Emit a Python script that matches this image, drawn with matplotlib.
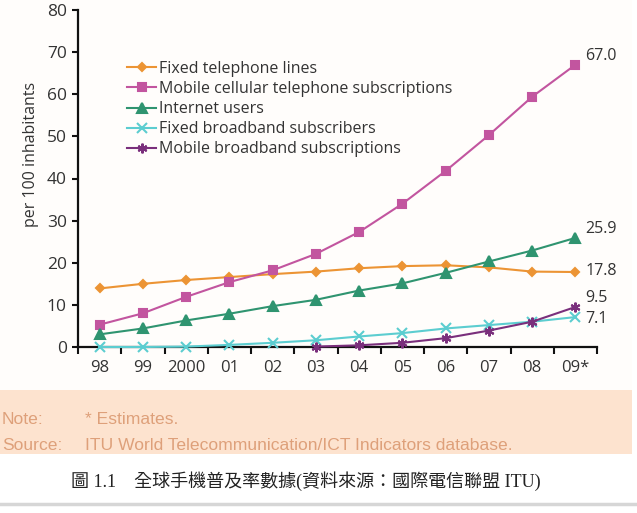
import matplotlib
matplotlib.use("Agg")
import matplotlib.pyplot as plt
from matplotlib.lines import Line2D
import numpy as np

years = ["98", "99", "2000", "01", "02", "03", "04", "05", "06", "07", "08", "09*"]
fixed_tel = [13.9, 15.0, 15.9, 16.6, 17.3, 17.9, 18.7, 19.2, 19.4, 18.9, 17.9, 17.8]
mobile_cell = [5.3, 8.0, 11.9, 15.4, 18.2, 22.1, 27.3, 34.0, 41.8, 50.3, 59.4, 67.0]
internet = [3.0, 4.4, 6.3, 7.9, 9.7, 11.2, 13.4, 15.1, 17.6, 20.3, 22.9, 25.9]
fixed_bb = [0.0, 0.0, 0.1, 0.5, 1.0, 1.6, 2.5, 3.3, 4.4, 5.2, 6.0, 7.1]
mobile_bb = [None, None, None, None, None, 0.1, 0.4, 1.0, 2.1, 3.9, 6.0, 9.5]
series_names = ["Fixed telephone lines", "Mobile cellular telephone subscriptions",
                "Internet users", "Fixed broadband subscribers",
                "Mobile broadband subscriptions"]
end_labels = ["17.8", "67.0", "25.9", "7.1", "9.5"]

plt.rcParams['font.family'] = ['Open Sans', 'DejaVu Sans']

fig = plt.figure(figsize=(6.37, 5.13), dpi=100)
fig.patch.set_facecolor("white")

W, H = 637, 513
# chart panel background
fig.patches.append(plt.Rectangle((0, 1 - 390 / H), 632 / W, 390 / H, transform=fig.transFigure,
                                 facecolor="#fffdfb", edgecolor="none", zorder=-5))
# peach note band
fig.patches.append(plt.Rectangle((0, 1 - 454 / H), 632 / W, 64 / H, transform=fig.transFigure,
                                 facecolor="#fde3cf", edgecolor="none", zorder=-5))
# grey line bottom
fig.add_artist(Line2D([0, 1], [1 - 503.5 / H, 1 - 503.5 / H], transform=fig.transFigure,
                      color="#d6d6d6", lw=2.5, zorder=-5))

ax = fig.add_axes([78 / W, 1 - 347 / H, (597 - 78) / W, (347 - 10) / H])
ax.set_facecolor("none")
ax.set_zorder(2)

x = np.arange(len(years))
colors = ["#ec9434", "#c2559f", "#2f9470", "#5ccdd0", "#7a2f7c"]
markers = ["D", "s", "^", "x", (6, 2, 0)]
msizes = [4.5, 6, 6.5, 6.5, 7]
data = [fixed_tel, mobile_cell, internet, fixed_bb, mobile_bb]

handles = []
for vals, c, m, ms, name in zip(data, colors, markers, msizes, series_names):
    v = np.array([np.nan if d is None else d for d in vals], dtype=float)
    h, = ax.plot(x, v, color=c, lw=1.5, marker=m, ms=ms, mec=c, mew=1.5,
                 label=name, clip_on=False, zorder=3)
    handles.append(h)

ax.set_xlim(-0.5, len(years) - 0.5)
ax.set_ylim(0, 80)
ax.set_yticks(range(0, 81, 10))
ax.set_xticks(x)
ax.set_xticklabels(years)
ax.set_xticks(np.arange(-0.5, len(years), 1), minor=True)
ax.tick_params(axis="x", which="major", length=0, pad=9, labelsize=12, colors="#333333")
ax.tick_params(axis="x", which="minor", length=5, width=1.5, direction="out", color="#111111")
ax.tick_params(axis="y", length=4, width=1.5, labelsize=12.5, pad=4, colors="#111111",
               labelcolor="#333333")
for s in ["top", "right"]:
    ax.spines[s].set_visible(False)
for s in ["left", "bottom"]:
    ax.spines[s].set_linewidth(1.6)
    ax.spines[s].set_color("#111111")

ax.set_ylabel("per 100 inhabitants", fontsize=11.5, color="#333333")
ax.yaxis.set_label_coords(-0.075, 0.57)

# end labels (offsets in points)
for vals, lab, dy in zip(data, end_labels, [0.7, 6.5, 6.5, -1.4, 6.5]):
    ax.annotate(lab, xy=(x[-1], vals[-1]), xytext=(7, dy),
                textcoords="offset points", fontsize=11.5, color="#333333",
                va="center", ha="left", annotation_clip=False)

leg = ax.legend(handles=handles, loc="upper left", bbox_to_anchor=(0.083, 0.868),
                frameon=False, fontsize=11.5, handlelength=1.8, handletextpad=0.2,
                labelspacing=0.26, borderaxespad=0)
for t in leg.get_texts():
    t.set_color("#333333")

# notes
nc = "#dea07a"
nf = dict(fontsize=12.6, color=nc, family="Liberation Sans", va="center")
fig.text(2 / W, 1 - 420 / H, "Note:", **nf)
fig.text(85 / W, 1 - 420 / H, "* Estimates.", **nf)
fig.text(2 / W, 1 - 445 / H, "Source:", **nf)
fig.text(85 / W, 1 - 445 / H, "ITU World Telecommunication/ICT Indicators database.", **nf)

fig.text(306 / W, 1 - 481 / H, "圖 1.1　全球手機普及率數據(資料來源：國際電信聯盟 ITU)",
         fontsize=13, color="#222222", ha="center", va="center",
         family=["Liberation Serif", "Noto Sans CJK TC"])

fig.savefig("out.png", dpi=100)
